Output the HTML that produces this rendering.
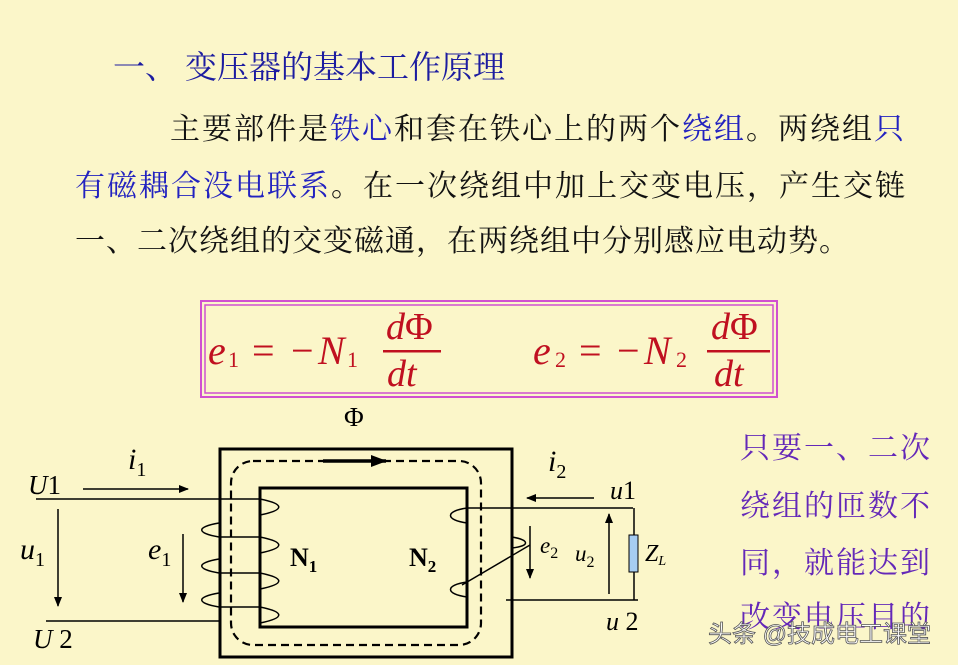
<!DOCTYPE html>
<html><head><meta charset="utf-8"><style>
html,body{margin:0;padding:0;background:#fbf6c9;}
svg{display:block}
.cn{font-family:"Liberation Serif","Noto Serif CJK SC",serif;}
.m{font-family:"Liberation Serif",serif;font-style:italic;}
</style></head><body>
<svg width="958" height="665" viewBox="0 0 958 665" xmlns="http://www.w3.org/2000/svg">
<rect width="958" height="665" fill="#fbf6c9"/>
<g class="cn">
<text x="113" y="78" font-size="32" fill="#1c1ca0">一、 变压器的基本工作原理</text>
<text x="170" y="139" font-size="30" fill="#111" letter-spacing="2">主要部件是<tspan fill="#2222c0">铁心</tspan>和套在铁心上的两个<tspan fill="#2222c0">绕组</tspan>。两绕组<tspan fill="#2222c0">只</tspan></text>
<text x="75" y="196" font-size="30" fill="#111" letter-spacing="2"><tspan fill="#2222c0">有磁耦合没电联系</tspan>。在一次绕组中加上交变电压，产生交链</text>
<text x="75" y="251" font-size="30" fill="#111" letter-spacing="1">一、二次绕组的交变磁通，在两绕组中分别感应电动势。</text>
<g font-size="30" fill="#6428b8" letter-spacing="2">
<text x="740" y="458">只要一、二次</text>
<text x="740" y="516">绕组的匝数不</text>
<text x="740" y="573">同，就能达到</text>
<text x="740" y="627">改变电压目的</text>
</g>
</g>
<rect x="201" y="301" width="576" height="96" fill="none" stroke="#d050d0" stroke-width="2"/>
<rect x="205" y="305" width="568" height="88" fill="none" stroke="#d050d0" stroke-width="1.5"/>
<g class="m" fill="#c01020">
<text x="208" y="364" font-size="40">e</text>
<text x="228" y="367" font-size="22" font-style="normal">1</text>
<text x="252" y="364" font-size="40" font-style="normal">=</text>
<text x="291" y="364" font-size="40" font-style="normal">−</text>
<text x="318" y="364" font-size="40">N</text>
<text x="347" y="367" font-size="22" font-style="normal">1</text>
<text x="386" y="339" font-size="38">d<tspan font-style="normal">Φ</tspan></text>
<rect x="383" y="350" width="58" height="2.5" fill="#c01020"/>
<text x="387" y="386" font-size="38">dt</text>
<text x="533" y="364" font-size="40">e</text>
<text x="555" y="367" font-size="22" font-style="normal">2</text>
<text x="579" y="364" font-size="40" font-style="normal">=</text>
<text x="617" y="364" font-size="40" font-style="normal">−</text>
<text x="644" y="364" font-size="40">N</text>
<text x="676" y="367" font-size="22" font-style="normal">2</text>
<text x="711" y="339" font-size="38">d<tspan font-style="normal">Φ</tspan></text>
<rect x="707" y="350" width="63" height="2.5" fill="#c01020"/>
<text x="714" y="386" font-size="38">dt</text>
</g>
<defs><marker id="a" markerWidth="10" markerHeight="8" refX="9" refY="4" orient="auto" markerUnits="userSpaceOnUse"><path d="M0,0 L10,4 L0,8 z" fill="#000"/></marker>
<marker id="b" markerWidth="16" markerHeight="12" refX="15" refY="6" orient="auto" markerUnits="userSpaceOnUse"><path d="M0,0 L16,6 L0,12 z" fill="#000"/></marker></defs>
<g stroke="#000" fill="none">
<rect x="220" y="449" width="292" height="208" stroke-width="3"/>
<rect x="260" y="488" width="207" height="139" stroke-width="3"/>
<rect x="231" y="461" width="250" height="184" rx="22" stroke-width="2.2" stroke-dasharray="8,5"/>
<line x1="323" y1="461" x2="386" y2="461" stroke-width="3.5" marker-end="url(#b)"/>
<line x1="36" y1="499" x2="260" y2="499" stroke-width="1.5"/>
<line x1="83" y1="489" x2="188" y2="489" stroke-width="1.5" marker-end="url(#a)"/>
<line x1="58" y1="509" x2="58" y2="606" stroke-width="1.5" marker-end="url(#a)"/>
<line x1="46" y1="621" x2="219" y2="621" stroke-width="1.5"/>
<line x1="183" y1="534" x2="183" y2="602" stroke-width="1.5" marker-end="url(#a)"/>
<g stroke-width="1.5">
<path d="M260,499 C285,504 285,510 260,515"/>
<path d="M260,537 C285,542 285,548 260,553"/>
<path d="M260,573 C285,578 285,584 260,589"/>
<path d="M260,607 C285,612 285,618 260,623"/>
<path d="M219,523 C196,527 196,533 219,537"/>
<path d="M219,559 C196,563 196,569 219,573"/>
<path d="M219,593 C196,597 196,603 219,607"/>
<line x1="219" y1="537" x2="260" y2="537"/>
<line x1="219" y1="573" x2="260" y2="573"/>
<line x1="219" y1="607" x2="260" y2="607"/>
<path d="M467,508 C445,511 445,520 467,523"/>
<line x1="467" y1="508" x2="633" y2="508"/>
<path d="M467,582 C445,585 445,594 467,597"/>
<line x1="462" y1="585" x2="530" y2="545"/>
<path d="M512,537 C530,540 530,546 512,548"/>
<line x1="506" y1="600" x2="638" y2="600"/>
<line x1="634" y1="508" x2="634" y2="600"/>
</g>
<line x1="594" y1="498" x2="527" y2="498" stroke-width="1.5" marker-end="url(#a)"/>
<line x1="530" y1="526" x2="530" y2="578" stroke-width="1.5" marker-end="url(#a)"/>
<line x1="609" y1="594" x2="609" y2="514" stroke-width="1.5" marker-end="url(#a)"/>
</g>
<rect x="629" y="535" width="9" height="37" fill="#a6cdf2" stroke="#000" stroke-width="1"/>
<g class="m" fill="#000">
<text x="344" y="426" font-size="27" font-style="normal">Φ</text>
<text x="28" y="494" font-size="27">U<tspan font-style="normal">1</tspan></text>
<text x="128" y="469" font-size="30">i<tspan font-size="20" font-style="normal" dy="7">1</tspan></text>
<text x="20" y="559" font-size="30">u<tspan font-size="20" font-style="normal" dy="7">1</tspan></text>
<text x="33" y="648" font-size="27">U<tspan font-style="normal"> 2</tspan></text>
<text x="148" y="559" font-size="30">e<tspan font-size="20" font-style="normal" dy="7">1</tspan></text>
<text x="548" y="471" font-size="30">i<tspan font-size="20" font-style="normal" dy="7">2</tspan></text>
<text x="610" y="499" font-size="26">u<tspan font-style="normal">1</tspan></text>
<text x="606" y="630" font-size="26">u<tspan font-style="normal"> 2</tspan></text>
<text x="540" y="553" font-size="23">e<tspan font-size="16" font-style="normal" dy="5">2</tspan></text>
<text x="575" y="561" font-size="23">u<tspan font-size="16" font-style="normal" dy="6">2</tspan></text>
<text x="645" y="561" font-size="24">Z<tspan font-size="14" dy="4">L</tspan></text>
<text x="290" y="566" font-size="26" font-style="normal" font-weight="bold">N<tspan font-size="17" dy="6">1</tspan></text>
<text x="409" y="566" font-size="26" font-style="normal" font-weight="bold">N<tspan font-size="17" dy="6">2</tspan></text>
</g>
<text font-family="Liberation Sans,Noto Sans CJK SC,sans-serif" x="708" y="642" font-size="24" fill="#fff" stroke="#555" stroke-width="0.8">头条 @技成电工课堂</text>
</svg>
</body></html>
